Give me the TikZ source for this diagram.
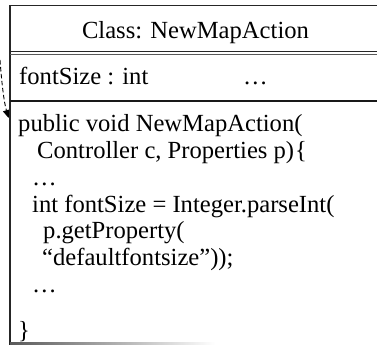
\documentclass[tikz,border=0pt]{standalone}
\usepackage{fontspec}
\setmainfont{Liberation Serif}
\usetikzlibrary{arrows.meta}
\begin{document}
\begin{tikzpicture}[x=1bp,y=-1bp,
  txt/.style={anchor=base west, inner sep=0pt, font=\fontsize{24.7}{29}\selectfont},
  frame/.style={draw=black!85, line width=1.6bp},
  dep/.style={draw=black, line width=0.9bp, dash pattern=on 4.5bp off 2.5bp,
    -{Triangle[length=8bp,width=7bp]}},
]
\useasboundingbox (0,0) rectangle (377,345);

% dependency arrow into the method compartment
\coordinate (src) at (0,60);
\coordinate (mtop) at (8.6,118);
\draw[dep] (src) .. controls (2,86) and (4,102) .. (mtop);

% class frame: left side and top, open to the right
\draw[frame] (10,345) -- (10,5.5) -- (377,5.5);
% double rule under the title
\draw[draw=black!85, line width=1.1bp] (10,51.6) -- (377,51.6);
\draw[draw=black!65, line width=1.1bp] (10,54.6) -- (377,54.6);
% rule between attributes and methods
\draw[draw=black!90, line width=2bp] (10,100.5) -- (377,100.5);
% fading bottom edge
\shade[left color=black!65, right color=white] (10,342.6) rectangle (215,344.2);

% title compartment
\node[txt, anchor=base] (title) at (195.5,38) {Class: NewMapAction};

% attribute compartment
\node[txt] (attr) at (19,84) {fontSize : int};
\node[txt] (attrmore) at (243,84) {…};

% method compartment
\node[txt] (m1) at (18,131.5) {public void NewMapAction(};
\node[txt] (m2) at (37,158) {Controller c, Properties p)\kern1pt\{};
\node[txt] (m3) at (32,185) {…};
\node[txt] (m4) at (32,212) {int fontSize = Integer.parseInt(};
\node[txt] (m5) at (43,238.5) {p.getProperty(};
\node[txt] (m6) at (42,265) {“defaultfontsize”));};
\node[txt] (m7) at (32,292) {…};
\node[txt] (m8) at (18,338) {\}};
\end{tikzpicture}
\end{document}
